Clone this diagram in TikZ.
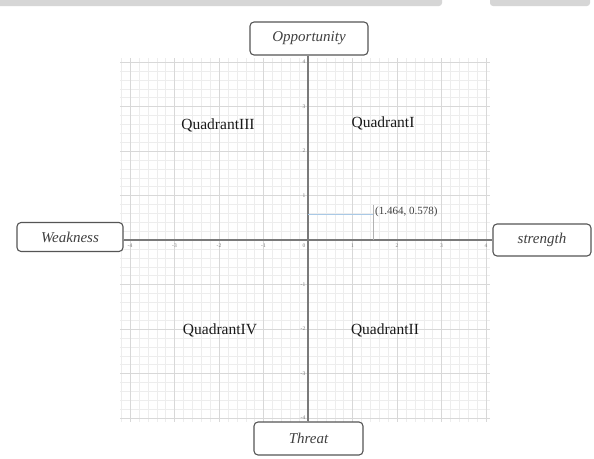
\documentclass[tikz,border=0pt]{standalone}
\usepackage{fontspec}
\setmainfont{Liberation Serif}
\definecolor{topbar}{HTML}{D6D6D6}
\definecolor{majgrid}{HTML}{D8D8D8}
\definecolor{mingrid}{HTML}{EDEDED}
\definecolor{axisgray}{HTML}{7A7A7A}
\definecolor{boxgray}{HTML}{555555}
\definecolor{ptblue}{HTML}{A9C9E6}
\definecolor{ticklbl}{HTML}{7A7A7A}
\tikzset{
  labelbox/.style={draw=boxgray, line width=1.1pt, rounded corners=4pt, fill=white,
    font=\itshape\fontsize{15}{17}\selectfont, text=black!75, inner sep=0pt},
  quadlbl/.style={font=\fontsize{15.5}{18}\selectfont, text=black!90},
  ticklabel/.style={font=\fontsize{5.5}{6}\selectfont, text=ticklbl, inner sep=0.5pt},
  axisline/.style={draw=axisgray, line width=1.1pt},
  ptline/.style={draw=ptblue, line width=0.9pt}
}
\begin{document}
\begin{tikzpicture}[x=1pt,y=-1pt]
\useasboundingbox (0,0) rectangle (594,458);
\fill[white] (0,0) rectangle (594,458);
% top bar
\fill[topbar, rounded corners=3pt] (-5,-5) rectangle (442,6);
\fill[topbar, rounded corners=3pt] (490,-5) rectangle (590,6);
% minor grid
\foreach \k in {-21,...,20} {
  \draw[mingrid, line width=0.4pt] ({308+\k*8.9},58) -- ({308+\k*8.9},422);
}
\foreach \k in {-20,...,20} {
  \draw[mingrid, line width=0.4pt] (120,{240+\k*8.9}) -- (490,{240+\k*8.9});
}
% major grid
\foreach \k in {-4,...,4} {
  \draw[majgrid, line width=0.6pt] ({308+\k*44.5},58) -- ({308+\k*44.5},422);
  \draw[majgrid, line width=0.6pt] (120,{240+\k*44.5}) -- (490,{240+\k*44.5});
}
% boxes
\node[labelbox, minimum width=118pt, minimum height=33pt] (opp) at (309,38.5) {Opportunity};
\node[labelbox, minimum width=109pt, minimum height=33pt] (thr) at (308.5,438.5) {Threat};
\node[labelbox, minimum width=106pt, minimum height=29pt] (weak) at (70,237) {Weakness};
\node[labelbox, minimum width=98pt, minimum height=32pt] (str) at (542,240) {strength};
% axes
\coordinate (origin) at (308,240);
\draw[axisline] (weak.east |- origin) -- (str.west |- origin);
\draw[axisline] (origin |- opp.south) -- (origin |- thr.north);
% tick labels
\foreach \k/\t in {-4/-4,-3/-3,-2/-2,-1/-1,1/1,2/2,3/3,4/4} {
  \node[ticklabel, anchor=north] (xt\k) at ({308+\k*44.5},243) {\t};
  \node[ticklabel, anchor=east] (yt\k) at (306,{240-\k*44.5}) {\t};
}
\node[ticklabel, anchor=north east] (zero) at (306,243) {0};
% point
\coordinate (py) at (308,214.3);
\coordinate (pp) at (373,214.3);
\coordinate (px) at (373,240);
\draw[ptline] (py) -- (pp);
\draw[draw=black!30, line width=0.6pt] (373,205) -- (px);
\node[anchor=west, font=\fontsize{11}{13}\selectfont, text=black!75, inner sep=1pt] (plbl) at (374,212) {(1.464, 0.578)};
% quadrant labels
\node[quadlbl] (q3) at (218,125) {QuadrantIII};
\node[quadlbl] (q1) at (383,123) {QuadrantI};
\node[quadlbl] (q4) at (220,330) {QuadrantIV};
\node[quadlbl] (q2) at (385,330) {QuadrantII};
\end{tikzpicture}
\end{document}
